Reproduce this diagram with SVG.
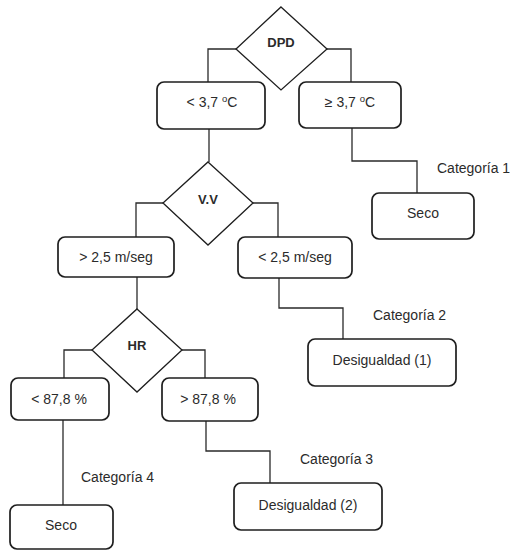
<svg xmlns="http://www.w3.org/2000/svg" width="515" height="551" viewBox="0 0 515 551">
<style>
.box{fill:#fff;stroke:#1e1e1e;stroke-width:1.7}
.dia{fill:#fff;stroke:#1e1e1e;stroke-width:1.3}
.con{fill:none;stroke:#2a2a2a;stroke-width:1.3}
text{font-family:"Liberation Sans",Arial,sans-serif;font-size:14px;fill:#2b2b2b}
.c{text-anchor:middle}
.b{font-weight:bold;font-size:13px}
</style>
<rect width="515" height="551" fill="#fff"/>
<g id="connectors">
<path class="con" d="M236,49 H208 V82"/>
<path class="con" d="M327,49 H351 V82"/>
<path class="con" d="M209,129 V162"/>
<path class="con" d="M163,203 H136 V237"/>
<path class="con" d="M253,203 H278 V237"/>
<path class="con" d="M352,128 V161 H417 V193"/>
<path class="con" d="M279,278 V308 H343 V339"/>
<path class="con" d="M137,277 V309"/>
<path class="con" d="M92,350 H64 V378"/>
<path class="con" d="M182,350 H205 V378"/>
<path class="con" d="M63,420 V505"/>
<path class="con" d="M206,421 V451 H270 V483"/>
</g>
<g id="dpd"><polygon class="dia" points="281,7 327,49 281,90 236,49"/><text class="c b" x="281" y="47">DPD</text></g>
<g id="lt37"><rect class="box" x="157" y="82" width="108" height="47" rx="7"/><text class="c" x="212" y="107">&lt; 3,7 <tspan font-size="9.5" dy="-5">o</tspan><tspan dy="5">C</tspan></text></g>
<g id="ge37"><rect class="box" x="299" y="82" width="102" height="46" rx="7"/><text class="c" x="350" y="107">≥ 3,7 <tspan font-size="9.5" dy="-5">o</tspan><tspan dy="5">C</tspan></text></g>
<g id="cat1"><text x="437" y="173">Categoría 1</text></g>
<g id="seco1"><rect class="box" x="372" y="193" width="102" height="46" rx="7"/><text class="c" x="423" y="218">Seco</text></g>
<g id="vv"><polygon class="dia" points="208,162 253,203 208,245 163,203"/><text class="c b" x="208" y="204">V.V</text></g>
<g id="gt25"><rect class="box" x="58" y="237" width="116" height="40" rx="7"/><text class="c" x="116" y="262">&gt; 2,5 m/seg</text></g>
<g id="lt25"><rect class="box" x="238" y="237" width="114" height="41" rx="7"/><text class="c" x="295" y="262">&lt; 2,5 m/seg</text></g>
<g id="cat2"><text x="373" y="320">Categoría 2</text></g>
<g id="desig1"><rect class="box" x="308" y="339" width="148" height="47" rx="7"/><text class="c" x="382" y="365">Desigualdad (1)</text></g>
<g id="hr"><polygon class="dia" points="137,309 182,350 137,392 92,350"/><text class="c b" x="137" y="350">HR</text></g>
<g id="lt878"><rect class="box" x="11" y="378" width="98" height="42" rx="7"/><text class="c" x="59" y="404">&lt; 87,8 %</text></g>
<g id="gt878"><rect class="box" x="162" y="378" width="96" height="43" rx="7"/><text class="c" x="208" y="404">&gt; 87,8 %</text></g>
<g id="cat3"><text x="300" y="464">Categoría 3</text></g>
<g id="desig2"><rect class="box" x="234" y="483" width="148" height="47" rx="7"/><text class="c" x="308" y="510">Desigualdad (2)</text></g>
<g id="cat4"><text x="81" y="482">Categoría 4</text></g>
<g id="seco2"><rect class="box" x="10" y="505" width="103" height="44" rx="7"/><text class="c" x="61" y="530">Seco</text></g>
</svg>
